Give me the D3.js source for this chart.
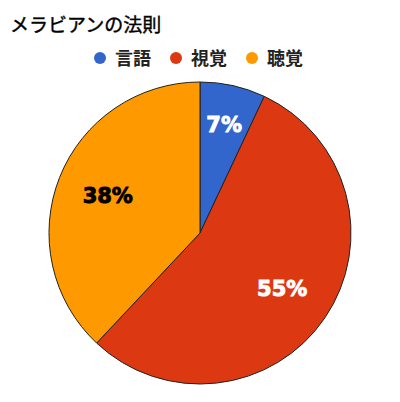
<!DOCTYPE html>
<html>
<head>
<meta charset="utf-8">
<script src="https://cdn.jsdelivr.net/npm/d3@7"></script>
<style>
  body { margin: 0; background: #fff; }
  svg { display: block; }
</style>
</head>
<body>
<svg id="chart"></svg>
<script>
var title = 'メラビアンの法則';
var categories = ['言語', '視覚', '聴覚'];
var values = [7, 55, 38];
var colors = ['#3366cc', '#dc3912', '#ff9900'];
var labelColors = ['#ffffff', '#ffffff', '#000000'];

var width = 400, height = 402;
var cx = 200, cy = 233, radius = 151;

var svg = d3.select('#chart')
    .attr('width', width)
    .attr('height', height);

svg.append('text')
  .attr('x', 10)
  .attr('y', 32)
  .style('font-family', '"Noto Sans CJK JP", sans-serif')
  .style('font-size', '19px')
  .style('fill', '#000')
  .style('stroke', '#000')
  .style('stroke-width', 0.4)
  .text(title);

// legend
var legendX = d3.scalePoint()
    .domain(categories)
    .range([100, 252]);

var item = svg.append('g')
    .selectAll('g')
    .data(categories)
    .enter().append('g')
    .attr('transform', function (d) { return 'translate(' + legendX(d) + ',58)'; });

item.append('circle')
  .attr('r', 6)
  .style('fill', function (d, i) { return colors[i]; });

item.append('text')
  .attr('x', 15)
  .attr('y', 6.5)
  .style('font-family', '"Noto Sans CJK JP", sans-serif')
  .style('font-weight', 'bold')
  .style('font-size', '18px')
  .style('fill', '#222')
  .text(function (d) { return d; });

// pie
var pie = d3.pie().sort(null).value(function (d) { return d; });
var arcs = pie(values);
var arc = d3.arc().innerRadius(0).outerRadius(radius);

var g = svg.append('g')
    .attr('transform', 'translate(' + cx + ',' + cy + ')');

g.selectAll('path')
  .data(arcs)
  .enter().append('path')
  .attr('d', arc)
  .style('fill', function (d, i) { return colors[i]; })
  .style('stroke', '#222')
  .style('stroke-width', 1);

var total = d3.sum(values);
var labels = g.selectAll('.label')
    .data(arcs)
    .enter().append('text')
    .attr('class', 'label')
    .attr('text-anchor', 'middle')
    .style('font-family', '"DejaVu Sans", sans-serif')
    .style('font-weight', 'bold')
    .style('font-size', '21px')
    .style('fill', function (d, i) { return labelColors[i]; })
    .style('stroke', function (d, i) { return labelColors[i]; })
    .style('stroke-width', 0.9)
    .text(function (d) { return Math.round(d.value / total * 100) + '%'; });

// push each label out along its mid angle until the far corner of its box touches labelRadius
var labelRadius = 127;
labels.each(function (d) {
  var box = this.getBBox();
  var a = (d.startAngle + d.endAngle) / 2;
  var ux = Math.sin(a), uy = -Math.cos(a);
  var sx = (ux >= 0 ? 1 : -1) * box.width / 2;
  var sy = (uy >= 0 ? 1 : -1) * box.height / 2;
  var us = ux * sx + uy * sy;
  var dist = -us + Math.sqrt(us * us - (sx * sx + sy * sy) + labelRadius * labelRadius);
  var x = dist * ux, y = dist * uy;
  var midY = box.y + box.height / 2;
  d3.select(this)
    .attr('x', x)
    .attr('y', y - midY);
});
</script>
</body>
</html>
